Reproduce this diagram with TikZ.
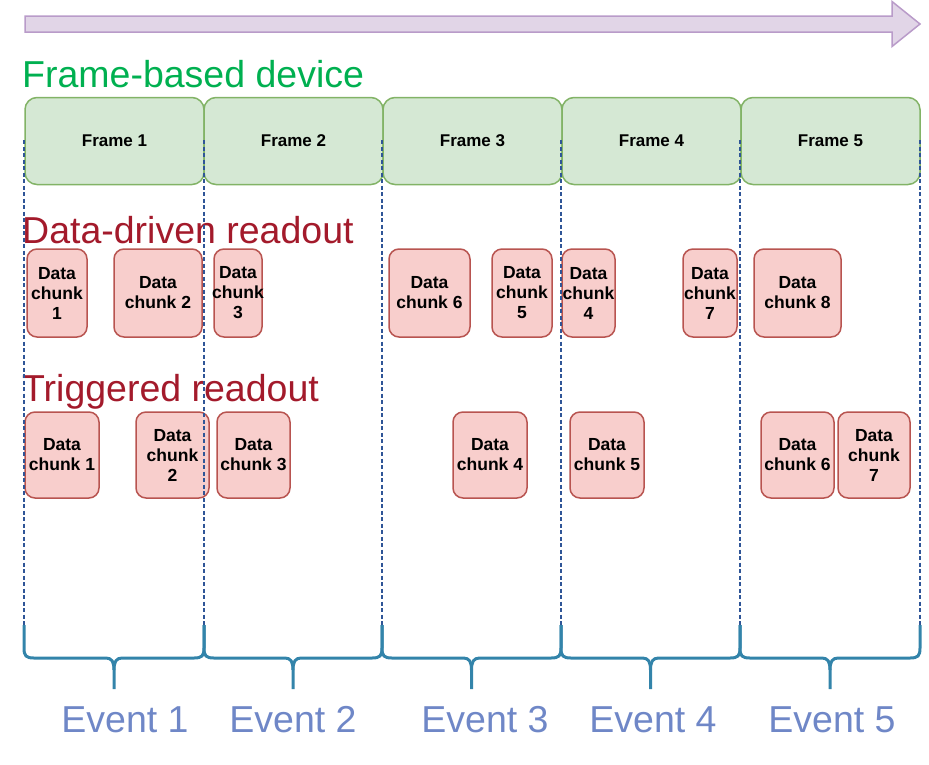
\documentclass[tikz,border=0pt]{standalone}
\usepackage{fontspec}
\setmainfont{Liberation Sans}
\usepackage{xcolor}
\usepackage{tikz}
\usetikzlibrary{positioning}

\definecolor{framefill}{HTML}{D5E8D4}
\definecolor{frameline}{HTML}{82B366}
\definecolor{chunkfill}{HTML}{F8CECC}
\definecolor{chunkline}{HTML}{B85450}
\definecolor{arrowfill}{HTML}{E1D5E7}
\definecolor{arrowline}{HTML}{B99BC9}
\definecolor{titlegreen}{HTML}{00B050}
\definecolor{titlered}{HTML}{A31A2B}
\definecolor{eventblue}{HTML}{6F87C7}
\definecolor{bracecol}{HTML}{3384AA}
\definecolor{sepblue}{HTML}{2F5597}

\tikzset{
    frame/.style={draw=frameline, fill=framefill, rounded corners=12pt, line width=1.5pt,
        minimum width=179pt, minimum height=87pt, inner sep=0pt,
        font=\fontsize{17}{20}\selectfont\bfseries},
    chunk/.style={draw=chunkline, fill=chunkfill, rounded corners=10pt, line width=1.5pt, inner sep=0pt},
    chunklabel/.style={font=\fontsize{17.5}{20}\selectfont\bfseries, align=center, inner sep=0pt},
    title/.style={font=\fontsize{37.5}{44}\selectfont, anchor=base west, inner sep=0pt},
    eventlabel/.style={font=\fontsize{37.5}{44}\selectfont, text=eventblue, anchor=base, inner sep=0pt},
    separator/.style={draw=sepblue, line width=1.6pt, dash pattern=on 4pt off 2.5pt},
    brace/.style={draw=bracecol, line width=3pt, line join=round},
}

\begin{document}
\begin{tikzpicture}[x=1pt, y=-1pt]
    \useasboundingbox (0,0) rectangle (929,764);

    % time arrow
    \draw[fill=arrowfill, draw=arrowline, line width=1.5pt]
        (25,16) -- (892,16) -- (892,1.5) -- (920,24) -- (892,46.5) -- (892,32) -- (25,32) -- cycle;

    % titles
    \node[title, text=titlegreen] (framebased) at (22,87)  {Frame-based device};
    \node[title, text=titlered]   (datadriven) at (22,243) {Data-driven readout};
    \node[title, text=titlered]   (triggered)  at (22,401) {Triggered readout};

    % frames
    \foreach \n/\x in {1/114.5, 2/293.5, 3/472.5, 4/651.5, 5/830.5}
        \node[frame] (f\n) at (\x,141) {Frame \n};

    % data-driven chunks
    \foreach \n/\x/\w/\txt in {1/57/60/{Data\\chunk\\1}, 2/158/88/{Data\\chunk 2},
            3/238/48/{Data\\chunk\\3}, 6/429.5/81/{Data\\chunk 6}, 5/522/60/{Data\\chunk\\5},
            4/588.5/53/{Data\\chunk\\4}, 7/710/54/{Data\\chunk\\7}, 8/797.5/87/{Data\\chunk 8}} {
        \node[chunk, minimum width=\w pt, minimum height=88pt] (dd\n) at (\x,293) {};
        \node[chunklabel] (dd\n t) at (dd\n) {\txt};
    }

    % triggered chunks
    \foreach \n/\x/\w/\txt in {1/62/74/{Data\\chunk 1}, 2/172.5/73/{Data\\chunk\\2},
            3/253.5/73/{Data\\chunk 3}, 4/490/74/{Data\\chunk 4}, 5/607/74/{Data\\chunk 5},
            6/797.5/73/{Data\\chunk 6}, 7/874/72/{Data\\chunk\\7}} {
        \node[chunk, minimum width=\w pt, minimum height=86pt] (tr\n) at (\x,455) {};
        \node[chunklabel] (tr\n t) at (tr\n) {\txt};
    }

    % frame boundaries
    \foreach \x in {24, 204, 382, 561, 740, 920}
        \draw[separator] (\x,140) -- (\x,625);

    % event braces
    \foreach \l/\r in {24/204, 204/382, 382/561, 561/740, 740/920} {
        \pgfmathsetmacro\m{(\l+\r)/2}
        \draw[brace] (\l,625) -- (\l,648) .. controls (\l,656) and (\l+2,658) .. (\l+10,658)
            -- (\m-8,658) .. controls (\m-2,658) and (\m,662) .. (\m,670) -- (\m,689);
        \draw[brace] (\m,670) .. controls (\m,662) and (\m+2,658) .. (\m+8,658)
            -- (\r-10,658) .. controls (\r-2,658) and (\r,656) .. (\r,648) -- (\r,625);
    }

    % event labels
    \node[eventlabel] (ev1) at (125,732) {Event 1};
    \node[eventlabel] (ev2) at (293,732) {Event 2};
    \node[eventlabel] (ev3) at (485,732) {Event 3};
    \node[eventlabel] (ev4) at (653,732) {Event 4};
    \node[eventlabel] (ev5) at (832,732) {Event 5};
\end{tikzpicture}
\end{document}
